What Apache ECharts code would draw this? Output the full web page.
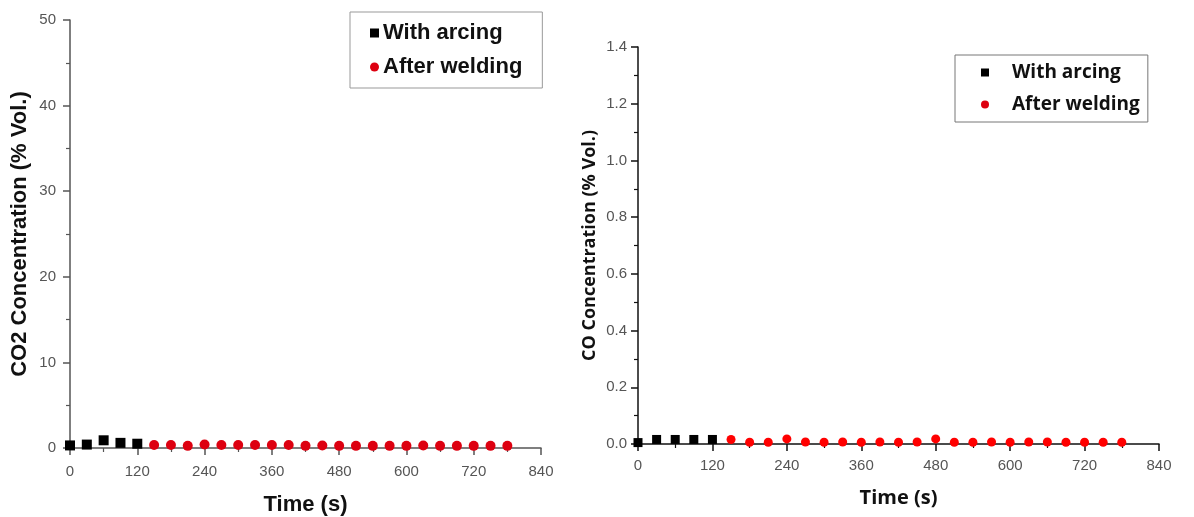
<!DOCTYPE html>
<html>
<head>
<meta charset="utf-8">
<script src="https://cdn.jsdelivr.net/npm/echarts@6/dist/echarts.min.js"></script>
<style>
html,body{margin:0;padding:0;background:#fff;}
#chart{width:1194px;height:517px;}
</style>
</head>
<body>
<div id="chart"></div>
<script>
// ---- data ----
const timeArc = [0, 30, 60, 90, 120];
const timeWeld = [150, 180, 210, 240, 270, 300, 330, 360, 390, 420, 450, 480, 510, 540, 570, 600, 630, 660, 690, 720, 750, 780];
const co2Arc = [0.3, 0.4, 0.9, 0.6, 0.5];
const co2Weld = [0.35, 0.35, 0.25, 0.4, 0.35, 0.35, 0.35, 0.35, 0.35, 0.25, 0.3, 0.25, 0.25, 0.25, 0.25, 0.25, 0.3, 0.25, 0.25, 0.25, 0.25, 0.25];
const coArc = [0.005, 0.016, 0.016, 0.016, 0.016];
const coWeld = [0.016, 0.006, 0.006, 0.018, 0.007, 0.006, 0.007, 0.006, 0.007, 0.006, 0.007, 0.018, 0.006, 0.006, 0.007, 0.006, 0.007, 0.007, 0.006, 0.006, 0.006, 0.006];
const seriesNames = ['With arcing', 'After welding'];

const pair = (xs, ys) => xs.map((x, i) => [x, ys[i]]);

const tickFont = {fontFamily: '"Liberation Sans Narrow", "Liberation Sans", Arial, sans-serif', fontSize: 15, color: '#555'};

function xAxisCfg(grid, color, nameFont, gap, margin) {
  return {
    type: 'value', gridIndex: grid, min: 0, max: 840, interval: 120,
    name: 'Time (s)', nameLocation: 'middle', nameGap: gap,
    nameTextStyle: nameFont,
    axisLine: {show: true, lineStyle: {color: color, width: 1.5}},
    axisTick: {show: true, inside: false, length: 7, lineStyle: {color: color, width: 1.5}},
    minorTick: {show: true, splitNumber: 2, length: 4, lineStyle: {color: color, width: 1.2}},
    axisLabel: Object.assign({margin: margin}, tickFont),
    splitLine: {show: false}
  };
}

function yAxisCfg(grid, max, interval, name, color, nameFont, gap, fmt, margin) {
  return {
    type: 'value', gridIndex: grid, min: 0, max: max, interval: interval,
    name: name, nameLocation: 'middle', nameGap: gap, nameRotate: 90,
    nameTextStyle: nameFont,
    axisLine: {show: true, lineStyle: {color: color, width: 1.5}},
    axisTick: {show: true, inside: false, length: 7, lineStyle: {color: color, width: 1.5}},
    minorTick: {show: true, splitNumber: 2, length: 4, lineStyle: {color: color, width: 1.2}},
    axisLabel: Object.assign({margin: margin, formatter: fmt}, tickFont),
    splitLine: {show: false}
  };
}

const leftTitleFont = {fontFamily: 'Arial, "Liberation Sans", sans-serif', fontWeight: 'bold', fontSize: 22, color: '#111'};
const leftXTitleFont = {fontFamily: 'Arial, "Liberation Sans", sans-serif', fontWeight: 'bold', fontSize: 22, color: '#111'};
const rightTitleFont = {fontFamily: '"Open Sans", sans-serif', fontWeight: 'bold', fontSize: 18, color: '#111'};
const rightXTitleFont = {fontFamily: '"Open Sans", sans-serif', fontWeight: 'bold', fontSize: 20, color: '#111'};

const option = {
  backgroundColor: '#fff',
  animation: false,
  grid: [
    {left: 70, top: 20, width: 471, height: 428, containLabel: false, outerBoundsMode: 'none'},
    {left: 638, top: 47, width: 521, height: 397, containLabel: false, outerBoundsMode: 'none'}
  ],
  legend: [
    {
      data: seriesNames, orient: 'vertical', left: 350, top: 12,
      borderColor: '#999', borderWidth: 1,
      padding: [10, 20, 10, 20], itemGap: 12, itemWidth: 9, itemHeight: 9,
      textStyle: {fontFamily: 'Arial, "Liberation Sans", sans-serif', fontWeight: 'bold', fontSize: 22, color: '#111', padding: [0, 0, 0, -1]}
    },
    {
      data: seriesNames, orient: 'vertical', left: 955, top: 55,
      borderColor: '#777', borderWidth: 1,
      padding: [8, 8, 8, 26], itemGap: 13, itemWidth: 8, itemHeight: 8,
      textStyle: {fontFamily: '"Open Sans", sans-serif', fontWeight: 'bold', fontSize: 19, color: '#111', padding: [0, 0, 0, 18]}
    }
  ],
  xAxis: [
    xAxisCfg(0, '#555', leftXTitleFont, 46, 16),
    xAxisCfg(1, '#111', rightXTitleFont, 44, 14)
  ],
  yAxis: [
    yAxisCfg(0, 50, 10, 'CO2 Concentration (% Vol.)', '#555', leftTitleFont, 39, v => v.toFixed(0), 14),
    yAxisCfg(1, 1.4, 0.2, 'CO Concentration (% Vol.)', '#111', rightTitleFont, 39, v => v.toFixed(1), 11)
  ],
  series: [
    {name: seriesNames[0], type: 'scatter', xAxisIndex: 0, yAxisIndex: 0, symbol: 'rect', symbolSize: 10, itemStyle: {color: '#000', opacity: 1}, data: pair(timeArc, co2Arc)},
    {name: seriesNames[1], type: 'scatter', xAxisIndex: 0, yAxisIndex: 0, symbol: 'circle', symbolSize: 10, itemStyle: {color: '#dd0010', opacity: 1}, data: pair(timeWeld, co2Weld)},
    {name: seriesNames[0], type: 'scatter', xAxisIndex: 1, yAxisIndex: 1, symbol: 'rect', symbolSize: 9, itemStyle: {color: '#000', opacity: 1}, data: pair(timeArc, coArc)},
    {name: seriesNames[1], type: 'scatter', xAxisIndex: 1, yAxisIndex: 1, symbol: 'circle', symbolSize: 9, itemStyle: {color: '#ff0000', opacity: 1}, data: pair(timeWeld, coWeld)}
  ]
};

const chart = echarts.init(document.getElementById('chart'), null, {renderer: 'canvas'});
chart.setOption(option);
</script>
</body>
</html>
